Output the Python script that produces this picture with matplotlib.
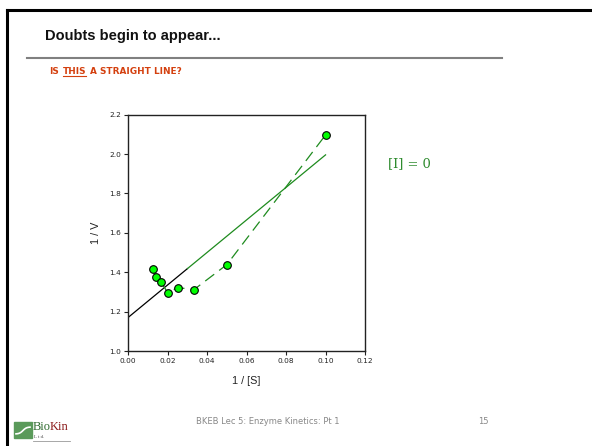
import matplotlib
matplotlib.use("Agg")
import matplotlib.pyplot as plt
from matplotlib.patches import Rectangle
from matplotlib.lines import Line2D
import numpy as np

# data
inv_s = [1/80, 1/70, 1/60, 1/50, 1/40, 1/30, 1/20, 1/10]
inv_v = [1.417, 1.375, 1.349, 1.296, 1.322, 1.312, 1.439, 2.097]
fit_intercept = 1.171
fit_slope = 8.25
fit_black_x = [0.0, 0.030]
fit_green_x = [0.030, 0.100]
x_ticks = [0.00, 0.02, 0.04, 0.06, 0.08, 0.10, 0.12]
y_ticks = [1.0, 1.2, 1.4, 1.6, 1.8, 2.0, 2.2]

W, H = 592, 446
fig = plt.figure(figsize=(W/100, H/100), dpi=100)
fig.patch.set_facecolor("white")

def fx(x): return x / W
def fy(y): return 1 - y / H

# slide frame
fig.add_artist(Line2D([fx(7), 1.0], [fy(10), fy(10)], color="black", lw=2.2))
fig.add_artist(Line2D([fx(7), fx(7)], [fy(10), 0.0], color="black", lw=2.2))

# title
fig.text(fx(45), fy(36), "Doubts begin to appear...", fontsize=10.5, fontweight="bold",
         family="Liberation Sans", va="center", ha="left", color="#111111")
fig.add_artist(Line2D([fx(27), fx(502)], [fy(58), fy(58)], color="#808080", lw=1.5))

# subtitle with underlined word
sub_col = "#D4400F"
fs_sub = 6.4
fig.canvas.draw()
r = fig.canvas.get_renderer()
t1 = fig.text(fx(49), fy(71), "IS", fontsize=fs_sub, fontweight="bold", family="DejaVu Sans",
              color=sub_col, va="center", ha="left")
bb = t1.get_window_extent(r)
space = 3.8
t2 = fig.text((bb.x1 + space) / W, fy(71), "THIS", fontsize=fs_sub, fontweight="bold",
              family="DejaVu Sans", color=sub_col, va="center", ha="left")
bb2 = t2.get_window_extent(r)
fig.add_artist(Line2D([bb2.x0 / W, bb2.x1 / W], [fy(75.5), fy(75.5)], color=sub_col, lw=0.8))
fig.text((bb2.x1 + space) / W, fy(71), "A STRAIGHT LINE?", fontsize=fs_sub, fontweight="bold",
         family="DejaVu Sans", color=sub_col, va="center", ha="left")

# axes
L, R, T, B = 128.3, 365.0, 114.7, 351.0
ax = fig.add_axes([fx(L), fy(B), (R - L) / W, (B - T) / H])
ax.set_xlim(0, 0.12)
ax.set_ylim(1.0, 2.2)
ax.set_xticks(x_ticks)
ax.set_yticks(y_ticks)
ax.set_xticklabels([f"{v:.2f}" for v in x_ticks])
ax.set_yticklabels([f"{v:.1f}" for v in y_ticks])
ax.tick_params(labelsize=5.3, length=3, width=0.8, direction="out", colors="#222222", pad=2)
for s in ax.spines.values():
    s.set_linewidth(1.0)
    s.set_color("#222222")

# fitted line
xb = np.array(fit_black_x)
xg = np.array(fit_green_x)
ax.plot(xb, fit_intercept + fit_slope * xb, color="black", lw=0.9)
ax.plot(xg, fit_intercept + fit_slope * xg, color="#1E8B1E", lw=0.9)
# data
ax.plot(inv_s, inv_v, color="#1E8B1E", lw=0.9, ls=(0, (9, 5)), zorder=3)
ax.plot(inv_s, inv_v, ls="none", marker="o", ms=5.5, mfc="#00FF00", mec="black", mew=0.8, zorder=4)

ax.set_xlabel("1 / [S]", fontsize=7.8, family="Liberation Sans", labelpad=9, color="#222222")
ax.set_ylabel("1 / V", fontsize=7.8, family="Liberation Sans", labelpad=6, color="#222222")

# annotation
fig.text(fx(388), fy(164), "[I] = 0", fontsize=9.4, family="DejaVu Serif", color="#2E8B2E",
         va="center", ha="left")

# footer
fig.text(fx(196), fy(422), "BKEB Lec 5: Enzyme Kinetics: Pt 1", fontsize=6.0,
         family="DejaVu Sans", color="#888888", va="center", ha="left")
fig.text(fx(478), fy(422), "15", fontsize=6.0, family="DejaVu Sans", color="#888888",
         va="center", ha="left")

# logo
fig.add_artist(Rectangle((fx(14), fy(438)), (32 - 14) / W, (438 - 422) / H, color="#5A9A5A",
                         transform=fig.transFigure))
xs = np.linspace(16, 30, 30)
ys = 434 - 7 * (1 / (1 + np.exp(-(xs - 23) / 1.8)))
fig.add_artist(Line2D(fx(xs), fy(ys), color="white", lw=1.2))
fig.text(fx(33), fy(427), "Bio", fontsize=9, family="Liberation Serif", color="#2F6B2F",
         va="center", ha="left")
fig.text(fx(50), fy(427), "Kin", fontsize=9, family="Liberation Serif", color="#8B1A1A",
         va="center", ha="left")
fig.text(fx(34), fy(437), "L t d.", fontsize=3.5, family="Liberation Serif", color="#444444",
         va="center", ha="left")
fig.add_artist(Line2D([fx(33), fx(70)], [fy(440.5), fy(440.5)], color="#999999", lw=0.6))

fig.savefig("out.png", dpi=100)
